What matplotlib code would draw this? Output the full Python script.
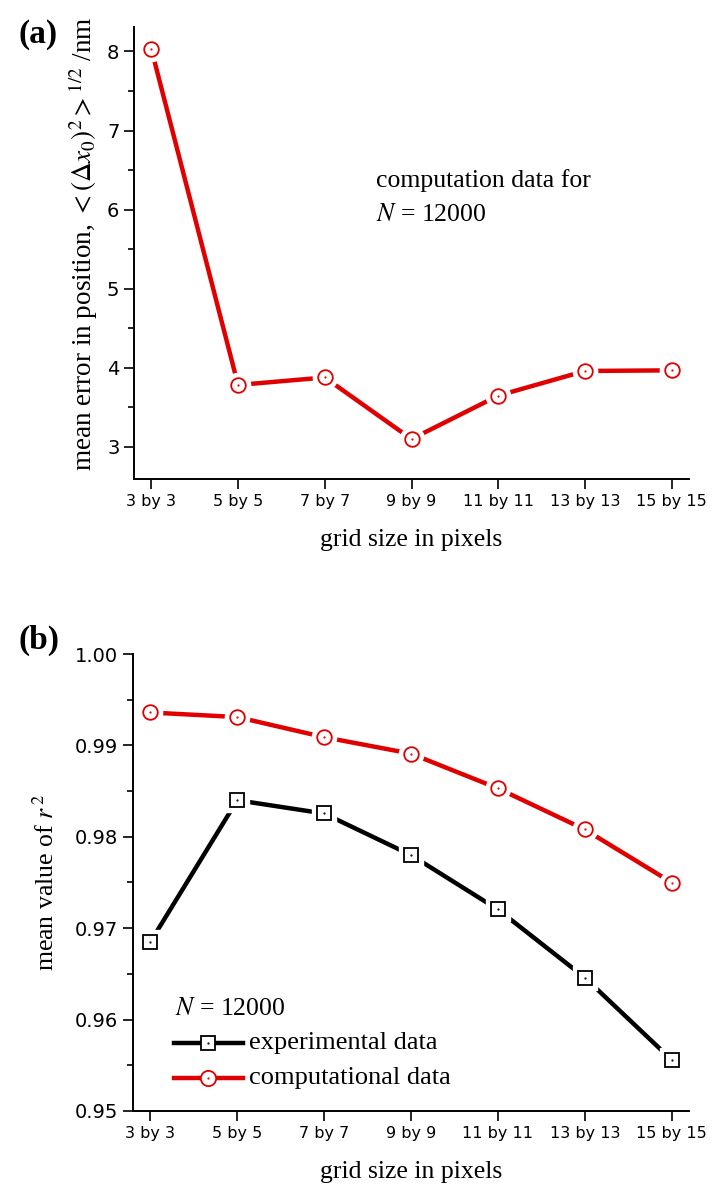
import numpy as np
import matplotlib
matplotlib.use("Agg")
import matplotlib.pyplot as plt
from matplotlib.ticker import MultipleLocator, FormatStrFormatter

# data
grid_labels = ["3 by 3", "5 by 5", "7 by 7", "9 by 9", "11 by 11", "13 by 13", "15 by 15"]
pos_error = [8.03, 3.78, 3.875, 3.095, 3.645, 3.957, 3.965]
r2_computational = [0.9936, 0.9931, 0.9909, 0.9891, 0.9853, 0.9808, 0.9750]
r2_experimental = [0.9685, 0.9840, 0.98255, 0.9780, 0.97205, 0.9646, 0.9556]

RED = "#e00000"
SERIF = "Liberation Serif"

plt.rcParams["mathtext.fontset"] = "stix"
plt.rcParams["font.family"] = "DejaVu Sans"

W, H = 719, 1196
fig = plt.figure(figsize=(W / 100, H / 100), dpi=100)


def px_axes(left, top, right, bottom):
    return fig.add_axes([left / W, 1 - bottom / H, (right - left) / W, (bottom - top) / H])


def draw_series(ax, x, y, color, marker, ms):
    ax.plot(x, y, color=color, lw=3.2, zorder=2, solid_capstyle="butt")
    # white halo so the line stops short of the marker, Origin style
    ax.plot(x, y, ls="none", marker=marker, ms=ms + 7, mfc="white", mec="white", zorder=3)
    ax.plot(x, y, ls="none", marker=marker, ms=ms, mfc="white", mec=color, mew=1.3, zorder=4)
    ax.plot(x, y, ls="none", marker=".", ms=1.2, color=color, zorder=5)


def style_axes(ax):
    ax.spines["top"].set_visible(False)
    ax.spines["right"].set_visible(False)
    ax.spines["left"].set_linewidth(1.4)
    ax.spines["bottom"].set_linewidth(1.4)
    ax.tick_params(which="major", direction="out", length=7, width=1.2)
    ax.tick_params(which="minor", direction="out", length=4, width=1.2)
    ax.tick_params(axis="x", labelsize=11.5, pad=4)
    ax.set_xticks(range(len(grid_labels)))
    ax.set_xticklabels(grid_labels)
    ax.set_xlim(-0.2, 6.2)
    ax.set_xlabel("grid size in pixels", family=SERIF, fontsize=18.5, labelpad=14)


x = np.arange(len(grid_labels))

# ---- panel (a)
ax1 = px_axes(134, 27, 689, 479)
draw_series(ax1, x, pos_error, RED, "o", 10.5)
style_axes(ax1)
ax1.set_ylim(2.59, 8.31)
ax1.yaxis.set_major_locator(MultipleLocator(1))
ax1.yaxis.set_minor_locator(MultipleLocator(0.5))
ax1.tick_params(axis="y", labelsize=14)
ax1.set_ylabel(r"mean error in position, $<(\Delta x_0)^2>^{1/2}$ /nm", family=SERIF, fontsize=19.5)
ax1.yaxis.set_label_coords(-0.062, 0.52)
ax1.text(2.59, 6.28, "computation data for", family=SERIF, fontsize=18.5)
ax1.text(2.59, 5.86, r"$N$ = 12000", family=SERIF, fontsize=18.5)
fig.text(18 / W, 1 - 34 / H, "(a)", family=SERIF, fontsize=24, fontweight="bold", va="center")

# ---- panel (b)
ax2 = px_axes(133, 654, 689, 1111)
draw_series(ax2, x, r2_computational, RED, "o", 10.5)
draw_series(ax2, x, r2_experimental, "black", "s", 10)
style_axes(ax2)
ax2.set_ylim(0.95, 1.0)
ax2.yaxis.set_major_locator(MultipleLocator(0.01))
ax2.yaxis.set_minor_locator(MultipleLocator(0.005))
ax2.yaxis.set_major_formatter(FormatStrFormatter("%.2f"))
ax2.tick_params(axis="y", labelsize=14)
ax2.set_ylabel(r"mean value of $r^{\,2}$", family=SERIF, fontsize=18.5)
ax2.yaxis.set_label_coords(-0.133, 0.5)
fig.text(18 / W, 1 - 640 / H, "(b)", family=SERIF, fontsize=24, fontweight="bold", va="center")

# legend drawn by hand to match the Origin layout
ax2.text(0.28, 0.9612, r"$N$ = 12000", family=SERIF, fontsize=18.5, va="center")
for lab, col, mk, ms, yy in [("experimental data", "black", "s", 10.5, 0.9574),
                             ("computational data", RED, "o", 11, 0.9536)]:
    ax2.plot([0.267, 1.069], [yy, yy], color=col, lw=3.2, clip_on=False)
    ax2.plot([0.668], [yy], marker=mk, ms=ms, mfc="white", mec=col, mew=1.3, clip_on=False)
    ax2.plot([0.668], [yy], marker=".", ms=1.2, color=col, clip_on=False)
    ax2.text(1.134, yy, lab, family=SERIF, fontsize=19, va="center")

fig.savefig("out.png", dpi=100)
